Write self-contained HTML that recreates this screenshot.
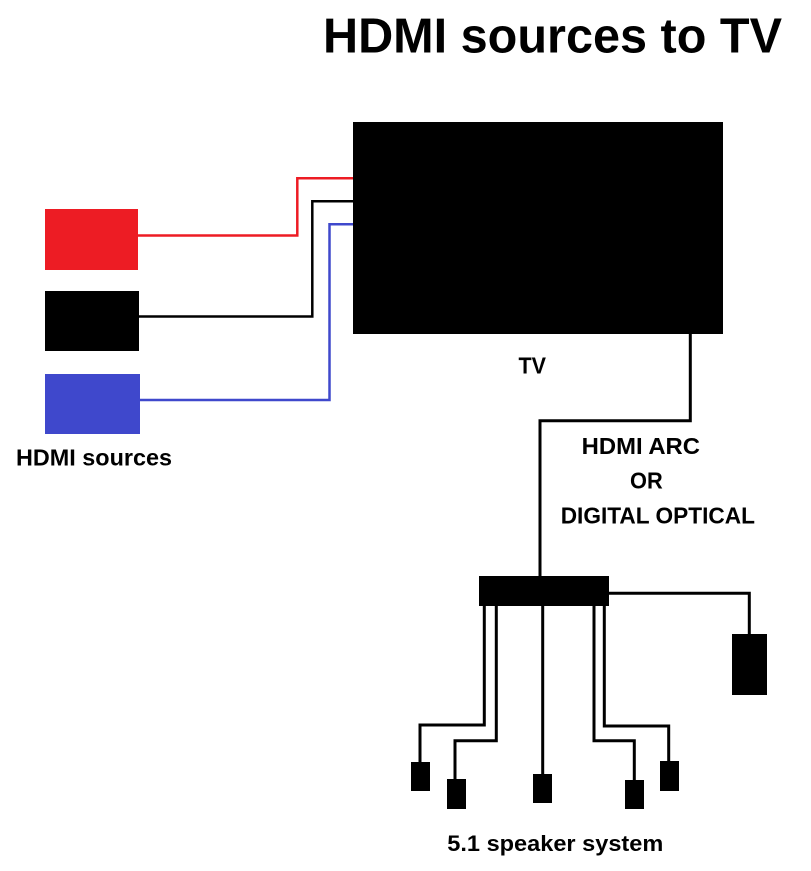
<!DOCTYPE html>
<html>
<head>
<meta charset="utf-8">
<style>
  html,body{margin:0;padding:0;background:#fff;}
  svg{display:block;}
  text{font-family:"Liberation Sans",Arial,sans-serif;font-weight:bold;fill:#000;}
</style>
</head>
<body>
<svg width="811" height="871" viewBox="0 0 811 871" xmlns="http://www.w3.org/2000/svg">
  <rect x="0" y="0" width="811" height="871" fill="#fff"/>

  <!-- Title -->
  <text x="323" y="52.5" font-size="49" textLength="459" lengthAdjust="spacingAndGlyphs">HDMI sources to TV</text>

  <!-- TV -->
  <rect x="353" y="122" width="370" height="212" fill="#000"/>
  <text x="518.5" y="373.5" font-size="23.5" textLength="27.5" lengthAdjust="spacingAndGlyphs">TV</text>

  <!-- Source boxes -->
  <rect x="45" y="209" width="93" height="61" fill="#ED1C24"/>
  <rect x="45" y="291" width="94" height="60" fill="#000"/>
  <rect x="45" y="374" width="95" height="60" fill="#3F48CC"/>
  <text x="16" y="465.7" font-size="23.3" textLength="156" lengthAdjust="spacingAndGlyphs">HDMI sources</text>

  <!-- Source cables -->
  <polyline points="138,235.5 297.3,235.5 297.3,178.3 353,178.3" fill="none" stroke="#ED1C24" stroke-width="2.5"/>
  <polyline points="139,316.5 312.3,316.5 312.3,201.3 353,201.3" fill="none" stroke="#000" stroke-width="2.5"/>
  <polyline points="140,400 329.5,400 329.5,224.3 353,224.3" fill="none" stroke="#3F48CC" stroke-width="2.5"/>

  <!-- TV to receiver -->
  <polyline points="690.3,334 690.3,420.7 540,420.7 540,577" fill="none" stroke="#000" stroke-width="3"/>

  <text x="581.7" y="454" font-size="23.3" textLength="118.3" lengthAdjust="spacingAndGlyphs">HDMI ARC</text>
  <text x="630" y="488.3" font-size="23.3" textLength="32.7" lengthAdjust="spacingAndGlyphs">OR</text>
  <text x="560.7" y="523.3" font-size="23.3" textLength="194.3" lengthAdjust="spacingAndGlyphs">DIGITAL OPTICAL</text>

  <!-- Receiver bar -->
  <rect x="479" y="576" width="130" height="30" fill="#000"/>

  <!-- Subwoofer -->
  <polyline points="608,593.3 749.3,593.3 749.3,635" fill="none" stroke="#000" stroke-width="3"/>
  <rect x="732" y="634" width="35" height="61" fill="#000"/>

  <!-- Speaker cables -->
  <g fill="none" stroke="#000" stroke-width="3">
    <polyline points="484.3,605 484.3,725 420,725 420,763"/>
    <polyline points="496.3,605 496.3,740.7 455,740.7 455,780"/>
    <polyline points="542.7,605 542.7,775"/>
    <polyline points="594,605 594,740.7 634.3,740.7 634.3,781"/>
    <polyline points="604.3,605 604.3,726 668.7,726 668.7,762"/>
  </g>

  <!-- Speakers -->
  <rect x="411" y="762" width="19" height="29" fill="#000"/>
  <rect x="447" y="779" width="19" height="30" fill="#000"/>
  <rect x="533" y="774" width="19" height="29" fill="#000"/>
  <rect x="625" y="780" width="19" height="29" fill="#000"/>
  <rect x="660" y="761" width="19" height="30" fill="#000"/>

  <text x="447.3" y="851" font-size="22.5" textLength="216" lengthAdjust="spacingAndGlyphs">5.1 speaker system</text>
</svg>
</body>
</html>
